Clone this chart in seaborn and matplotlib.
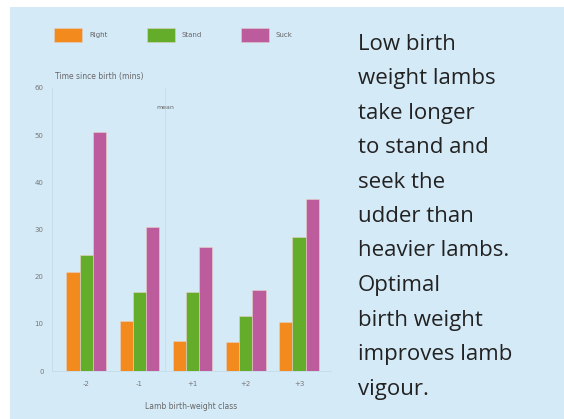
import numpy as np
import pandas as pd
import seaborn as sns
import matplotlib.pyplot as plt
from matplotlib.patches import Rectangle

# 데이터
classes = ['-2', '-1', '+1', '+2', '+3']
right = [21, 10.6, 6.4, 6.2, 10.3]
stand = [24.5, 16.8, 16.7, 11.7, 28.4]
suck = [50.7, 30.6, 26.2, 17.2, 36.4]
series = ['Right', 'Stand', 'Suck']
colors = ['#f28a1e', '#63ad2b', '#bd5c9c']
y_ticks = [0, 10, 20, 30, 40, 50, 60]
note = ['Low birth', 'weight lambs', 'take longer', 'to stand and', 'seek the',
        'udder than', 'heavier lambs.', 'Optimal', 'birth weight',
        'improves lamb', 'vigour.']

df = pd.DataFrame({
    'cls': classes * 3,
    'time': right + stand + suck,
    'kind': [s for s in series for _ in classes],
})

sns.set_style('white')
plt.rcParams['font.family'] = ['DejaVu Sans']

bg = '#d5eaf7'
fig = plt.figure(figsize=(5.64, 4.19), dpi=100)
fig.patch.set_facecolor('white')
fig.add_artist(Rectangle((10 / 564, 0), 554 / 564, 412 / 419,
                         transform=fig.transFigure, facecolor=bg,
                         edgecolor='none', zorder=0))

ax = fig.add_axes([52 / 564, 48 / 419, 279 / 564, 283 / 419])
ax.set_facecolor('none')
sns.barplot(data=df, x='cls', y='time', hue='kind', palette=colors,
            saturation=1, width=0.74, edgecolor='#ead2c6', linewidth=0.4,
            ax=ax, legend=False)

ax.set_xlim(-0.64, 4.6)
ax.set_ylim(0, 60)
ax.set_yticks(y_ticks)
ax.tick_params(axis='both', length=0, labelsize=5, labelcolor='#777777')
ax.tick_params(axis='x', pad=7)
ax.tick_params(axis='y', pad=6)
for s in ['top', 'right']:
    ax.spines[s].set_visible(False)
for s in ['left', 'bottom']:
    ax.spines[s].set_color('#c4dbe8')
    ax.spines[s].set_linewidth(0.6)
ax.axvline(1.48, color='#c4dbe8', lw=0.5, zorder=0)
ax.set_xlabel('Lamb birth-weight class', fontsize=5.5, color='#666666', labelpad=11)
ax.set_ylabel('')
ax.text(0.01, 1.025, 'Time since birth (mins)', transform=ax.transAxes,
        fontsize=5.5, color='#666666', va='bottom')
ax.text(165 / 564, 310 / 419, 'mean', transform=fig.transFigure,
        fontsize=4.5, color='#666666', ha='center')

# 범례
for i, (name, c) in enumerate(zip(series, colors)):
    x0 = [54, 147, 241][i]
    fig.add_artist(Rectangle((x0 / 564, 377 / 419), 28 / 564, 14 / 419,
                             transform=fig.transFigure, facecolor=c,
                             edgecolor='#e0d0c8', lw=0.4))
    fig.text((x0 + 35) / 564, 384 / 419, name, fontsize=5,
             color='#666666', va='center')

# 오른쪽 설명
for i, line in enumerate(note):
    fig.text(358 / 564, (419 - 49.5 - i * 34.5) / 419, line, fontsize=16,
             color='#222222', family='Open Sans', va='baseline')

fig.savefig('out.png', dpi=100)
